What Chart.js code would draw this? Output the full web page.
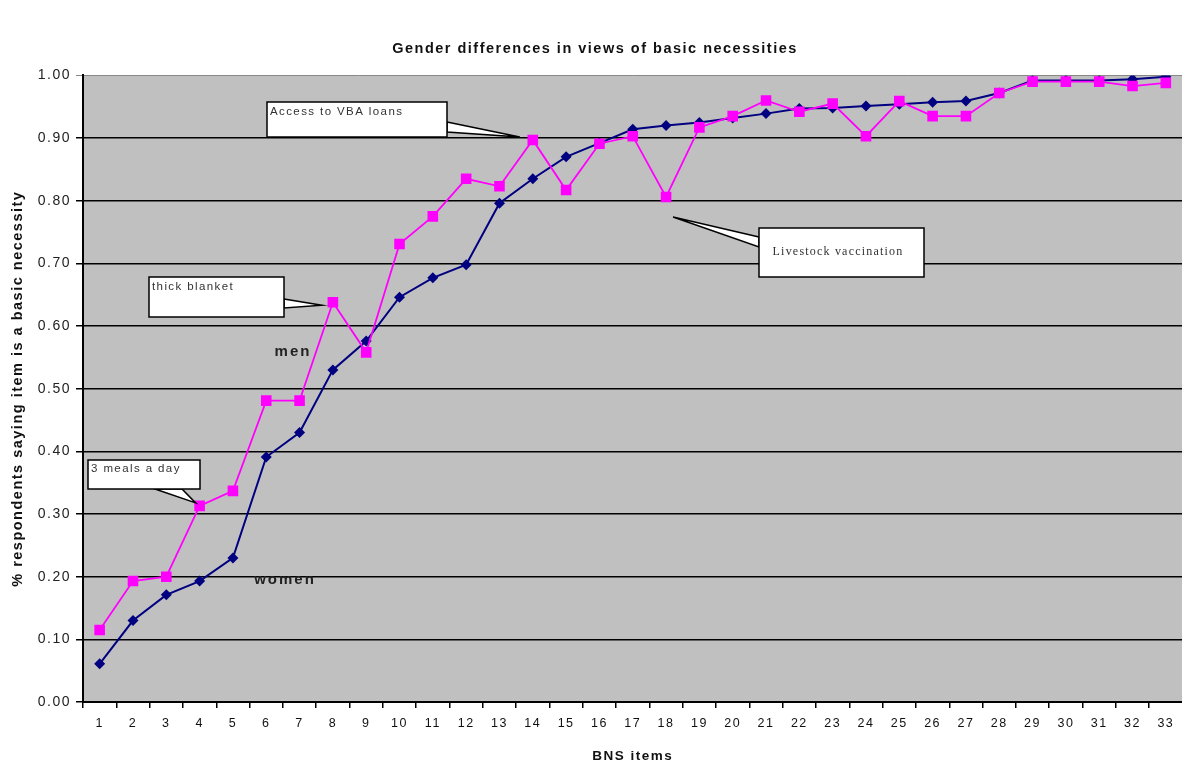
<!DOCTYPE html>
<html>
<head>
<meta charset="utf-8">
<script src="https://cdn.jsdelivr.net/npm/chart.js@4.4.1/dist/chart.umd.min.js"></script>
<style>
    html, body { margin: 0; padding: 0; background: #fff; overflow: hidden; }
    #wrap { width: 1190px; height: 767px; }
</style>
</head>
<body>
<div id="wrap"><canvas id="bnsChart"></canvas></div>
<script>
// BNS items 1..33
const items = ['1', '2', '3', '4', '5', '6', '7', '8', '9', '10', '11', '12', '13', '14', '15', '16', '17',
    '18', '19', '20', '21', '22', '23', '24', '25', '26', '27', '28', '29', '30', '31', '32', '33'];

// share of respondents saying item is a basic necessity
const menValues = [0.115, 0.193, 0.200, 0.313, 0.337, 0.481, 0.481, 0.638, 0.558, 0.731, 0.775,
    0.835, 0.823, 0.897, 0.817, 0.891, 0.903, 0.806, 0.917, 0.935, 0.960, 0.942, 0.955, 0.903,
    0.959, 0.935, 0.935, 0.972, 0.990, 0.990, 0.990, 0.983, 0.988];
const womenValues = [0.061, 0.130, 0.171, 0.193, 0.230, 0.391, 0.430, 0.530, 0.576, 0.646, 0.677,
    0.698, 0.796, 0.835, 0.870, 0.892, 0.914, 0.920, 0.925, 0.932, 0.939, 0.947, 0.948, 0.951,
    0.954, 0.957, 0.959, 0.972, 0.992, 0.992, 0.992, 0.994, 0.998];

const SANS = "'Liberation Sans', Arial, sans-serif";
const SERIF = "'Liberation Serif', 'Times New Roman', serif";
const SPACING = '1.5px';

// callout boxes (pixel layout) pointing at a men data point
const callouts = [
    { text: 'Access to VBA loans', index: 13, box: [267, 102, 447, 137], base: [[447, 122], [447, 132]], tipOffset: [-13, -3], textPos: [270, 112], font: '11.5px ' + SANS, spacing: '1.4px', align: 'left' },
    { text: 'thick blanket', index: 7, box: [149, 277, 284, 317], base: [[284, 299], [284, 308]], tipOffset: [-11, 3], textPos: [152, 287], font: '11.5px ' + SANS, spacing: '1.4px', align: 'left' },
    { text: '3 meals a day', index: 3, box: [88, 460, 200, 489], base: [[155, 489], [182, 489]], tipOffset: [-4, -3], textPos: [91, 469], font: '11.5px ' + SANS, spacing: '1.4px', align: 'left' },
    { text: 'Livestock vaccination', index: 17, box: [759, 228, 924, 277], base: [[759, 237], [759, 247]], tipOffset: [7, 20], textPos: [838, 252], font: '12px ' + SERIF, spacing: '1.2px', align: 'center' }
];

const letterSpacing = {
    id: 'letterSpacing',
    beforeLayout(chart) { chart.ctx.letterSpacing = SPACING; },
    beforeDraw(chart) { chart.ctx.letterSpacing = SPACING; }
};

const plotBackground = {
    id: 'plotBackground',
    beforeDraw(chart) {
        const { ctx, chartArea: a } = chart;
        ctx.save();
        ctx.fillStyle = '#c0c0c0';
        ctx.fillRect(a.left, a.top, a.right - a.left, a.bottom - a.top);
        ctx.restore();
    }
};

const calloutPlugin = {
    id: 'callouts',
    afterDraw(chart) {
        const { ctx, scales } = chart;
        ctx.save();
        callouts.forEach(c => {
            const px = scales.x.getPixelForValue(c.index) + c.tipOffset[0];
            const py = scales.y.getPixelForValue(menValues[c.index]) + c.tipOffset[1];
            // wedge
            ctx.beginPath();
            ctx.moveTo(c.base[0][0], c.base[0][1]);
            ctx.lineTo(px, py);
            ctx.lineTo(c.base[1][0], c.base[1][1]);
            ctx.closePath();
            ctx.fillStyle = '#fff';
            ctx.fill();
            ctx.strokeStyle = '#000';
            ctx.lineWidth = 1.5;
            ctx.stroke();
            // box
            const [x1, y1, x2, y2] = c.box;
            ctx.fillStyle = '#fff';
            ctx.fillRect(x1, y1, x2 - x1, y2 - y1);
            ctx.strokeRect(x1, y1, x2 - x1, y2 - y1);
            // text
            ctx.fillStyle = '#333';
            ctx.font = c.font;
            ctx.letterSpacing = c.spacing;
            ctx.textAlign = c.align;
            ctx.textBaseline = 'middle';
            ctx.fillText(c.text, c.textPos[0], c.textPos[1]);
        });
        // series labels
        ctx.font = 'bold 15px ' + SANS;
        ctx.letterSpacing = '2px';
        ctx.fillStyle = '#222';
        ctx.textAlign = 'center';
        ctx.textBaseline = 'middle';
        ctx.fillText('men', 293, 352);
        ctx.fillText('women', 285, 580);
        ctx.restore();
    }
};

new Chart(document.getElementById('bnsChart'), {
    type: 'line',
    data: {
        labels: items,
        datasets: [
            {
                label: 'men',
                data: menValues,
                borderColor: '#ff00ff',
                backgroundColor: '#ff00ff',
                borderWidth: 1.8,
                pointStyle: 'rect',
                pointRadius: 7.5,
                pointBorderWidth: 0,
                pointBackgroundColor: '#ff00ff',
                tension: 0
            },
            {
                label: 'women',
                data: womenValues,
                borderColor: '#000080',
                backgroundColor: '#000080',
                borderWidth: 2,
                pointStyle: 'rectRot',
                pointRadius: 5.5,
                pointBorderWidth: 0,
                pointBackgroundColor: '#000080',
                tension: 0
            }
        ]
    },
    options: {
        responsive: true,
        maintainAspectRatio: false,
        animation: false,
        layout: { padding: 0 },
        plugins: {
            legend: { display: false },
            tooltip: { enabled: false },
            title: {
                display: true,
                text: 'Gender differences in views of basic necessities',
                color: '#111',
                font: { family: SANS, size: 14.5, weight: 'bold' },
                padding: { top: 40, bottom: 18 }
            }
        },
        scales: {
            x: {
                offset: true,
                grid: {
                    offset: true,
                    drawOnChartArea: false,
                    drawTicks: true,
                    tickLength: 6,
                    color: '#000',
                    lineWidth: 1.5
                },
                border: { color: '#000', width: 2 },
                ticks: {
                    autoSkip: false,
                    maxRotation: 0,
                    padding: 8,
                    color: '#111',
                    font: { family: SANS, size: 12.5 }
                },
                title: {
                    display: true,
                    text: 'BNS items',
                    color: '#111',
                    font: { family: SANS, size: 13.5, weight: 'bold' },
                    padding: { top: 0, bottom: 3 }
                },
                afterFit(scale) { scale.height = 65; }
            },
            y: {
                min: 0,
                max: 1,
                grid: {
                    color: ctx => (ctx.tick && ctx.tick.value === 1 ? '#888' : '#000'),
                    lineWidth: ctx => (ctx.tick && ctx.tick.value === 1 ? 1 : 1.5),
                    tickLength: 7
                },
                border: { color: '#000', width: 2 },
                ticks: {
                    stepSize: 0.1,
                    padding: 5,
                    color: '#222',
                    font: { family: SANS, size: 14 },
                    callback: value => value.toFixed(2)
                },
                title: {
                    display: true,
                    text: '% respondents saying item is a basic necessity',
                    color: '#111',
                    font: { family: SANS, size: 14.5, weight: 'bold' },
                    padding: { top: 9, bottom: 0 }
                },
                afterFit(scale) { scale.width = 83; }
            }
        }
    },
    plugins: [letterSpacing, plotBackground, calloutPlugin]
});
</script>
</body>
</html>
